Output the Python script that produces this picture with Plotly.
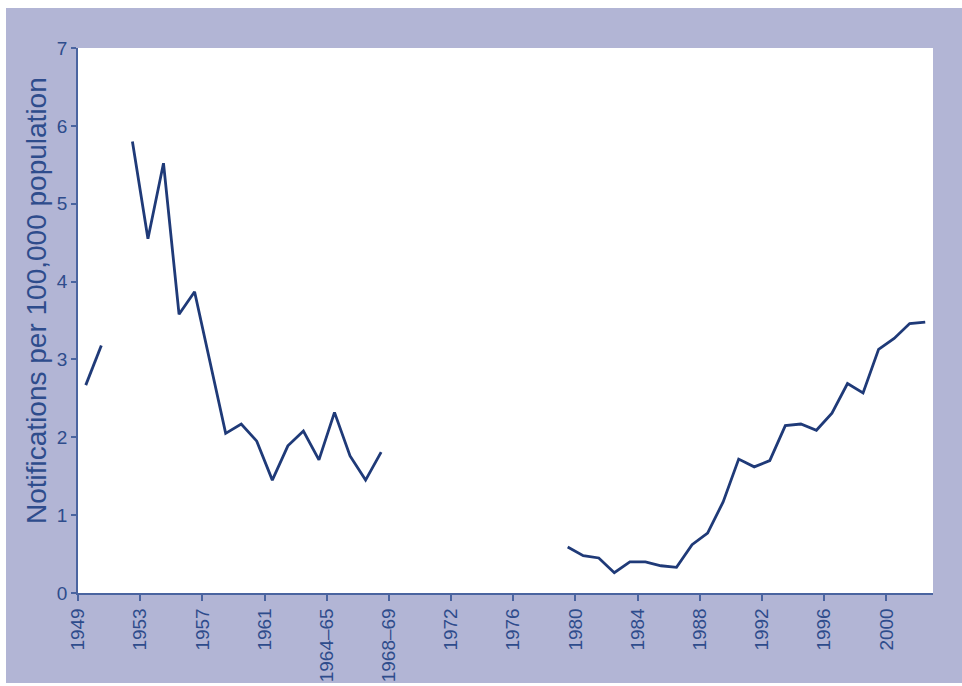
import plotly.graph_objects as go

# Categories (one per reporting period), left to right
categories = (
    [str(y) for y in range(1949, 1964)]
    + ["1963–64", "1964–65", "1965–66", "1966–67", "1967–68", "1968–69",
       "1969–70", "1970–71", "1971"]
    + [str(y) for y in range(1972, 2003)]
)

# Notifications per 100,000 population (None = no data)
values = [
    2.67, 3.18, None, 5.80, 4.55, 5.52, 3.58, 3.87, 2.96, 2.05,
    2.17, 1.95, 1.45, 1.89, 2.08, 1.71, 2.32, 1.76, 1.45, 1.81,
    None, None, None, None, None, None, None, None, None, None, None,
    0.59, 0.48, 0.45, 0.26, 0.40, 0.40, 0.35, 0.33, 0.62, 0.77,
    1.17, 1.72, 1.62, 1.70, 2.15, 2.17, 2.09, 2.31, 2.69, 2.57,
    3.13, 3.27, 3.46, 3.48,
]

tick_labels = ["1949", "1953", "1957", "1961", "1964–65", "1968–69", "1972",
               "1976", "1980", "1984", "1988", "1992", "1996", "2000"]

y_ticks = [0, 1, 2, 3, 4, 5, 6, 7]

# positions: each category occupies one unit, point at its centre
x_pos = [i + 0.5 for i in range(len(categories))]
tick_vals = [categories.index(t) for t in tick_labels]

W, H = 962, 686
L, T, R, B = 78, 48, 29, 93
pw, ph = W - L - R, H - T - B

TEXT = "#2E4C8C"
AXIS = "#4A64A0"
LINE = "#1F3A78"
BG = "#B2B5D5"

fig = go.Figure()
fig.add_trace(go.Scatter(
    x=x_pos, y=values, mode="lines",
    line=dict(color=LINE, width=2.8),
    connectgaps=False, showlegend=False, hoverinfo="skip",
))


def px_x(p):
    return (p - L) / pw


def px_y(p):
    return (H - B - p) / ph


shapes = []
# white outer margins around the lavender panel
for x0, x1, y0, y1 in [(-2, 6, -2, H + 2), (-2, W + 2, -2, 8), (-2, W + 2, 683, H + 2)]:
    shapes.append(dict(type="rect", xref="paper", yref="paper",
                       x0=px_x(x0), x1=px_x(x1), y0=px_y(y1), y1=px_y(y0),
                       fillcolor="white", line=dict(width=0), layer="above"))

fig.update_layout(
    width=W, height=H,
    margin=dict(l=L, r=R, t=T, b=B, pad=0, autoexpand=False),
    paper_bgcolor=BG, plot_bgcolor="white",
    font=dict(family="Liberation Sans, Arial, sans-serif", color=TEXT, size=19),
    shapes=shapes,
    xaxis=dict(
        range=[0, len(categories)], automargin=False,
        tickmode="array", tickvals=tick_vals, ticktext=tick_labels,
        tickangle=-90, ticks="outside", ticklen=6, tickwidth=1.5,
        tickcolor=AXIS, showline=True, linecolor=AXIS, linewidth=1.5,
        showgrid=False, zeroline=False, tickfont=dict(size=19, color=TEXT),
    ),
    yaxis=dict(
        range=[0, 7], tickmode="array", tickvals=y_ticks, automargin=False,
        ticks="outside", ticklen=5, tickwidth=1.5, tickcolor=AXIS,
        showline=True, linecolor=AXIS, linewidth=1.5,
        showgrid=False, zeroline=False, tickfont=dict(size=19, color=TEXT),
    ),
    annotations=[dict(
        text="Notifications per 100,000 population",
        xref="paper", yref="paper", x=px_x(36), y=px_y(301),
        xanchor="center", yanchor="middle", textangle=-90, showarrow=False,
        font=dict(size=28, color=TEXT),
    )],
)

fig.write_html(
    "out.html",
    config={"displayModeBar": False},
    post_script="document.body.style.margin='0';document.body.style.overflow='hidden';",
)
